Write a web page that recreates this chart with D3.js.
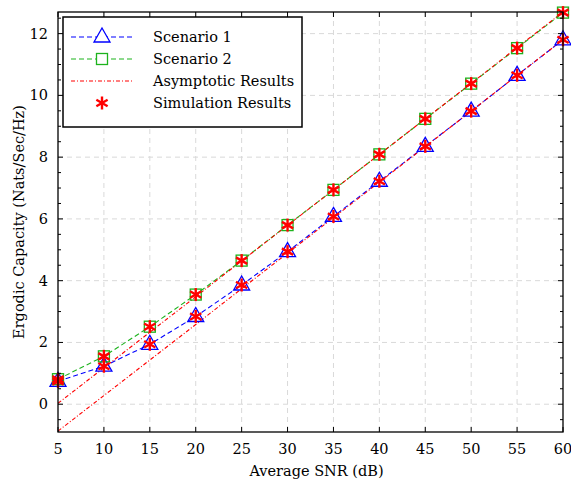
<!DOCTYPE html>
<html><head><meta charset="utf-8">
<script src="https://cdn.jsdelivr.net/npm/d3@7"></script>
<style>body{margin:0;background:#fff}svg{display:block}text{font-family:"DejaVu Serif","Liberation Serif",serif;}</style>
</head><body><svg id="c" width="571" height="481"></svg>
<script>
const snr = [5,10,15,20,25,30,35,40,45,50,55,60];
const scenario1 = [0.74,1.23,1.94,2.84,3.86,4.94,6.08,7.22,8.35,9.49,10.65,11.8];
const scenario2 = [0.81,1.55,2.51,3.55,4.65,5.8,6.94,8.09,9.24,10.38,11.53,12.68];
const asym1 = [-0.87,0.28,1.43,2.58,3.74,4.89,6.04,7.19,8.34,9.49,10.65,11.8];
const asym2 = [0.03,1.18,2.33,3.48,4.64,5.79,6.94,8.09,9.24,10.39,11.55,12.7];
const xTicks = [5,10,15,20,25,30,35,40,45,50,55,60];
const yTicks = [0,2,4,6,8,10,12];
const legendLabels = ["Scenario 1","Scenario 2","Asymptotic Results","Simulation Results"];

const svg = d3.select("#c");
const L=58,R=563,T=12,B=432;
const FS=14.5;
const x = d3.scaleLinear().domain([5,60]).range([L,R]);
const y = d3.scaleLinear().domain([-0.9,12.7]).range([B,T]);

// grid
const g = svg.append("g");
g.selectAll(".gx").data(xTicks.slice(1,-1)).enter().append("line")
 .attr("x1",d=>x(d)).attr("x2",d=>x(d)).attr("y1",T).attr("y2",B)
 .attr("stroke","#d9d9d9").attr("stroke-dasharray","5,4").attr("stroke-width",1);
g.selectAll(".gy").data(yTicks).enter().append("line")
 .attr("y1",d=>y(d)).attr("y2",d=>y(d)).attr("x1",L).attr("x2",R)
 .attr("stroke","#d9d9d9").attr("stroke-dasharray","5,4").attr("stroke-width",1);

const clip = svg.append("clipPath").attr("id","cp").append("rect").attr("x",L).attr("y",T-1).attr("width",R-L).attr("height",B-T+1);
const plot = svg.append("g");
const line = d3.line().x((d,i)=>x(snr[i])).y(d=>y(d));

plot.append("path").datum(scenario1).attr("d",line).attr("fill","none").attr("stroke","#0000ff").attr("stroke-width",1.1).attr("stroke-dasharray","5,3");
plot.append("path").datum(scenario2).attr("d",line).attr("fill","none").attr("stroke","#1db31d").attr("stroke-width",1.1).attr("stroke-dasharray","5,3");
plot.append("path").datum(asym1).attr("d",line).attr("fill","none").attr("stroke","#ff0000").attr("stroke-width",1.1).attr("stroke-dasharray","4,2,1,2").attr("clip-path","url(#cp)");
plot.append("path").datum(asym2).attr("d",line).attr("fill","none").attr("stroke","#ff0000").attr("stroke-width",1.1).attr("stroke-dasharray","4,2,1,2").attr("clip-path","url(#cp)");

function tri(cx,cy){return `M${cx},${cy-9}L${cx+8},${cy+5}L${cx-8},${cy+5}Z`;}
function star(sel,cx,cy){
  const r=6.5;
  [90,30,-30].forEach(a=>{const t=a*Math.PI/180;
   sel.append("line").attr("x1",cx-r*Math.cos(t)).attr("y1",cy-r*Math.sin(t)).attr("x2",cx+r*Math.cos(t)).attr("y2",cy+r*Math.sin(t))
   .attr("stroke","#ff0000").attr("stroke-width",2.4);});
}
plot.selectAll(".tri").data(scenario1).enter().append("path").attr("d",(d,i)=>tri(x(snr[i]),y(d))).attr("fill","none").attr("stroke","#0000ff").attr("stroke-width",1.3);
plot.selectAll(".sq").data(scenario2).enter().append("rect").attr("x",(d,i)=>x(snr[i])-5.5).attr("y",d=>y(d)-5.5).attr("width",11).attr("height",11).attr("fill","none").attr("stroke","#1db31d").attr("stroke-width",1.3);
scenario1.forEach((d,i)=>star(plot,x(snr[i]),y(d)));
scenario2.forEach((d,i)=>star(plot,x(snr[i]),y(d)));

// axes frame
const ax = svg.append("g");
ax.append("rect").attr("x",L).attr("y",T).attr("width",R-L).attr("height",B-T).attr("fill","none").attr("stroke","#000").attr("stroke-width",1.3);
xTicks.forEach(t=>{
  ax.append("line").attr("x1",x(t)).attr("x2",x(t)).attr("y1",B).attr("y2",B-5).attr("stroke","#000");
  ax.append("line").attr("x1",x(t)).attr("x2",x(t)).attr("y1",T).attr("y2",T+5).attr("stroke","#000");
  ax.append("text").attr("x",x(t)).attr("y",B+22).attr("text-anchor","middle").attr("font-size",FS).text(t);
});
d3.range(-0.5,12.75,0.5).forEach(t=>{
  const len = (Math.abs(t%2)<1e-6)?5:3;
  ax.append("line").attr("x1",L).attr("x2",L+len).attr("y1",y(t)).attr("y2",y(t)).attr("stroke","#000");
  ax.append("line").attr("x1",R).attr("x2",R-len).attr("y1",y(t)).attr("y2",y(t)).attr("stroke","#000");
});
yTicks.forEach(t=>{
  ax.append("text").attr("x",L-10).attr("y",y(t)+5).attr("text-anchor","end").attr("font-size",FS).text(t);
});
svg.append("text").attr("x",(L+R)/2+6).attr("y",B+44).attr("text-anchor","middle").attr("font-size",FS).text("Average SNR (dB)");
svg.append("text").attr("transform",`translate(24,${(T+B)/2}) rotate(-90)`).attr("text-anchor","middle").attr("font-size",FS).text("Ergodic Capacity (Nats/Sec/Hz)");

// legend
const lg = svg.append("g");
lg.append("rect").attr("x",63).attr("y",17).attr("width",239).attr("height",110).attr("fill","#fff").attr("stroke","#000").attr("stroke-width",1.5);
const ly=[37,59,81,103];
lg.append("line").attr("x1",71).attr("x2",133).attr("y1",ly[0]).attr("y2",ly[0]).attr("stroke","#0000ff").attr("stroke-width",1.1).attr("stroke-dasharray","5,3");
lg.append("path").attr("d",tri(102,ly[0])).attr("fill","#fff").attr("stroke","#0000ff").attr("stroke-width",1.3);
lg.append("line").attr("x1",71).attr("x2",133).attr("y1",ly[1]).attr("y2",ly[1]).attr("stroke","#1db31d").attr("stroke-width",1.1).attr("stroke-dasharray","5,3");
lg.append("rect").attr("x",96.5).attr("y",ly[1]-5.5).attr("width",11).attr("height",11).attr("fill","#fff").attr("stroke","#1db31d").attr("stroke-width",1.3);
lg.append("line").attr("x1",71).attr("x2",133).attr("y1",ly[2]).attr("y2",ly[2]).attr("stroke","#ff0000").attr("stroke-width",1.1).attr("stroke-dasharray","4,2,1,2");
star(lg,102,ly[3]);
legendLabels.forEach((s,i)=>lg.append("text").attr("x",153).attr("y",ly[i]+5).attr("font-size",FS).text(s));
</script></body></html>
